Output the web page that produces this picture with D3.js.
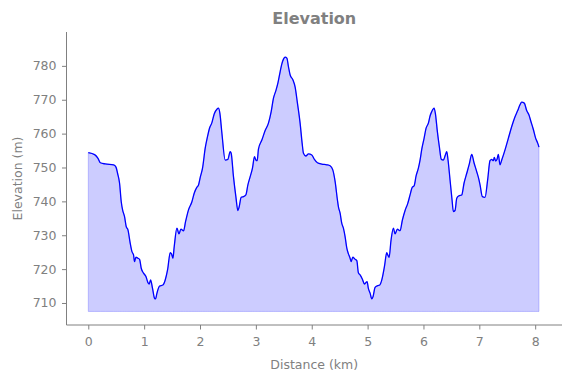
<!DOCTYPE html>
<html>
<head>
<meta charset="utf-8">
<script src="https://cdn.jsdelivr.net/npm/d3@7"></script>
<style>
html,body{margin:0;padding:0;background:#fff;}
svg{display:block;font-family:"DejaVu Sans",sans-serif;}
</style>
</head>
<body>
<svg id="chart" width="571" height="378"></svg>
<script>
const distance = [0.00,0.113,0.174,0.215,0.304,0.453,0.496,0.524,0.560,0.590,
0.614,0.649,0.680,0.710,0.751,0.782,0.810,0.828,0.853,0.889,
0.918,0.948,0.989,1.032,1.068,1.091,1.115,1.150,1.186,1.204,
1.229,1.276,1.336,1.377,1.419,1.467,1.490,1.515,1.538,1.587,
1.623,1.658,1.705,1.741,1.794,1.855,1.896,1.945,1.973,2.004,
2.045,2.093,2.134,2.170,2.213,2.254,2.302,2.331,2.356,2.392,
2.451,2.499,2.540,2.558,2.599,2.642,2.678,2.701,2.737,2.778,
2.821,2.857,2.898,2.939,2.975,3.000,3.023,3.046,3.107,3.166,
3.225,3.274,3.315,3.358,3.394,3.435,3.465,3.494,3.524,3.555,
3.583,3.614,3.662,3.703,3.744,3.792,3.828,3.852,3.894,3.941,
4.002,4.048,4.102,4.181,4.270,4.329,4.377,4.419,4.460,4.478,
4.508,4.538,4.567,4.597,4.628,4.657,4.687,4.705,4.735,4.776,
4.807,4.835,4.866,4.907,4.943,4.968,4.991,5.014,5.045,5.075,
5.098,5.134,5.182,5.218,5.254,5.301,5.343,5.361,5.385,5.420,
5.462,5.492,5.533,5.581,5.623,5.671,5.719,5.760,5.801,5.832,
5.868,5.909,5.939,5.970,6.011,6.047,6.088,6.118,6.148,6.190,
6.213,6.249,6.284,6.320,6.356,6.392,6.417,6.440,6.476,6.512,
6.535,6.565,6.596,6.631,6.685,6.726,6.775,6.821,6.864,6.905,
6.953,6.995,7.013,7.054,7.102,7.150,7.191,7.222,7.250,7.268,
7.293,7.317,7.340,7.370,7.401,7.460,7.519,7.580,7.639,7.687,
7.728,7.758,7.805,7.848,7.889,7.925,7.966,8.009,8.045,8.068];

const elevation = [754.4,753.8,752.7,751.4,751.05,750.8,750.1,748.3,745.35,739.9,
737.5,735.5,732.5,731.6,727.6,725.15,724.2,722.2,723.5,723.2,
722.9,720.25,718.8,717.8,716.0,715.6,716.8,714.3,711.4,711.2,
712.9,715.0,715.3,716.8,719.75,724.85,724.5,723.2,726.6,732.1,
730.4,731.8,731.3,734.0,737.5,739.9,742.4,744.2,744.85,747.1,
749.8,755.7,759.1,761.6,763.25,765.8,767.2,767.5,766.0,760.1,
752.2,752.4,754.7,754.2,747.3,741.4,737.3,738.4,741.2,741.4,
741.9,744.85,747.3,749.8,753.2,752.2,752.0,755.4,758.1,760.9,
763.1,766.5,770.45,772.7,774.9,778.3,780.6,782.0,782.6,782.3,
779.8,777.3,775.9,773.7,769.0,763.1,757.2,754.2,753.4,754.0,
753.7,752.4,751.4,751.0,750.8,750.5,749.3,745.8,740.4,738.4,
736.5,733.5,732.1,729.6,726.2,724.5,723.2,722.2,723.5,722.9,
722.5,718.95,718.3,717.0,715.6,716.0,716.3,714.3,712.9,711.2,
711.9,714.6,715.1,715.3,716.8,720.7,724.85,724.2,723.5,728.6,
732.1,730.4,731.8,731.35,734.5,737.3,739.4,741.9,744.2,744.55,
747.5,749.8,752.2,755.4,758.6,761.6,763.1,765.2,766.5,767.5,
766.0,760.6,756.2,752.4,752.2,753.7,754.7,752.2,746.3,740.4,
737.0,737.3,740.9,741.6,741.9,745.35,748.3,751.05,753.9,751.4,
748.8,746.3,744.85,741.4,741.2,746.5,752.0,752.4,752.0,753.0,
751.9,752.4,753.9,750.8,752.2,755.2,758.6,762.1,765.0,766.8,
768.5,769.3,769.0,766.8,765.5,763.5,761.3,758.6,757.2,756.0];

const baseline = 707.5;
const xTicks = [0,1,2,3,4,5,6,7,8];
const yTicks = [710,720,730,740,750,760,770,780];
const titleText = "Elevation";
const xLabel = "Distance (km)";
const yLabel = "Elevation (m)";

(function () {
const svg = d3.select("#chart");
const mLeft = 66.5, mRight = 562, mTop = 32, mBottom = 325;
const gray = "#808080";

const x = d3.scaleLinear().domain([-0.39, 8.48]).range([mLeft, mRight]);
const y = d3.scaleLinear().domain([703.5, 790]).range([mBottom, mTop]);

const n = Math.min(distance.length, elevation.length);
const data = d3.range(n).map(i => ({d: distance[i], e: elevation[i]}));

const area = d3.area()
  .x(p => x(p.d))
  .y0(y(baseline))
  .y1(p => y(p.e))
  .curve(d3.curveMonotoneX);

svg.append("path")
  .datum(data)
  .attr("d", area)
  .attr("fill", "rgba(0,0,255,0.2)")
  .attr("stroke", "rgba(0,0,255,0.2)")
  .attr("stroke-width", 1);

const line = d3.line()
  .x(p => x(p.d))
  .y(p => y(p.e))
  .curve(d3.curveMonotoneX);

svg.append("path")
  .datum(data)
  .attr("d", line)
  .attr("fill", "none")
  .attr("stroke", "#0000ff")
  .attr("stroke-width", 1.3)
  .attr("stroke-linejoin", "round");

const xAxis = d3.axisBottom(x).tickValues(xTicks).tickFormat(d3.format("d")).tickSize(4.5).tickPadding(8);
const yAxis = d3.axisLeft(y).tickValues(yTicks).tickFormat(d3.format("d")).tickSize(4.5).tickPadding(5.5);

const gx = svg.append("g").attr("transform", `translate(0,${mBottom})`).call(xAxis);
const gy = svg.append("g").attr("transform", `translate(${mLeft},0)`).call(yAxis);

[gx, gy].forEach(g => {
  g.select(".domain").remove();
  g.selectAll(".tick line").attr("stroke", gray).attr("stroke-width", 1);
  g.selectAll(".tick text").attr("fill", gray).style("font-size", "12.5px").style("font-family", "DejaVu Sans");
});

svg.append("line").attr("x1", mLeft).attr("x2", mLeft).attr("y1", mTop).attr("y2", mBottom)
  .attr("stroke", gray).attr("stroke-width", 1);
svg.append("line").attr("x1", mLeft).attr("x2", mRight).attr("y1", mBottom).attr("y2", mBottom)
  .attr("stroke", gray).attr("stroke-width", 1);

svg.append("text")
  .attr("x", (mLeft + mRight) / 2).attr("y", 24)
  .attr("text-anchor", "middle")
  .attr("fill", gray)
  .style("font-size", "16px").style("font-weight", "bold")
  .text(titleText);

svg.append("text")
  .attr("x", (mLeft + mRight) / 2).attr("y", 368.5)
  .attr("text-anchor", "middle")
  .attr("fill", gray)
  .style("font-size", "12.5px")
  .text(xLabel);

svg.append("text")
  .attr("transform", `translate(21.5,${(mTop + mBottom) / 2}) rotate(-90)`)
  .attr("text-anchor", "middle")
  .attr("fill", gray)
  .style("font-size", "12.5px")
  .text(yLabel);
})();
</script>
</body>
</html>
